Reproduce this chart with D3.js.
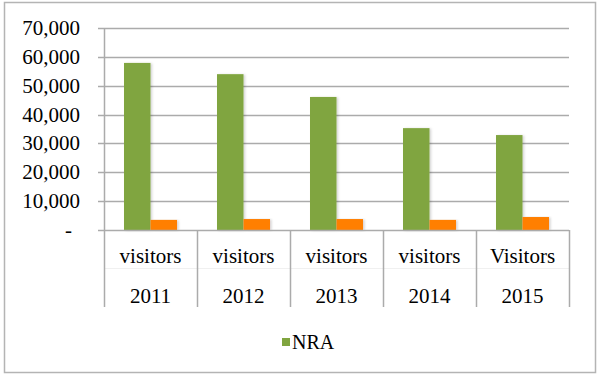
<!DOCTYPE html>
<html>
<head>
<meta charset="utf-8">
<script src="https://cdn.jsdelivr.net/npm/d3@7"></script>
<style>
  body { margin: 0; background: #fff; }
  text { font-family: "Liberation Serif", "Times New Roman", serif; fill: #000; }
</style>
</head>
<body>
<div id="chart"></div>
<script>
// data
var years = ["2011", "2012", "2013", "2014", "2015"];
var subLabels = ["visitors", "visitors", "visitors", "visitors", "Visitors"];
var nraVisitors = [57900, 54000, 46100, 35300, 32900];
var otherVisitors = [3500, 3800, 3800, 3500, 4500];
var yTicks = [0, 10000, 20000, 30000, 40000, 50000, 60000, 70000];

var green = "#80a53f";
var orange = "#ff7f00";
var gridColor = "#ababab";

var width = 598, height = 375;

var svg = d3.select("#chart")
    .append("svg")
    .attr("width", width)
    .attr("height", height);

// soft shadow under the bars
var defs = svg.append("defs");
var shadow = defs.append("filter").attr("id", "barShadow")
    .attr("x", "-20%").attr("y", "-5%").attr("width", "150%").attr("height", "115%");
shadow.append("feDropShadow")
    .attr("dx", 1.5).attr("dy", 0.5).attr("stdDeviation", 1.2)
    .attr("flood-color", "#000").attr("flood-opacity", 0.18);

// outer frame
svg.append("rect")
    .attr("x", 4.5).attr("y", 2.5)
    .attr("width", 591).attr("height", 370)
    .attr("fill", "#fff")
    .attr("stroke", "#b4b4b4")
    .attr("stroke-width", 1.5);

var x = d3.scaleBand().domain(years).range([104, 569]).padding(0);
var bw = x.bandwidth();
var xSub = d3.scaleBand().domain(["nra", "other"]).range([bw * 0.215, bw * 0.785]).padding(0);
var y = d3.scaleLinear().domain([0, 70000]).range([230, 28]);

// gridlines
svg.append("g")
    .selectAll("line")
    .data(yTicks.filter(function (d) { return d > 0; }))
    .join("line")
    .attr("x1", 98).attr("x2", 569)
    .attr("y1", function (d) { return Math.round(y(d)) + 0.5; })
    .attr("y2", function (d) { return Math.round(y(d)) + 0.5; })
    .attr("stroke", gridColor)
    .attr("stroke-width", 1.3);

// y axis labels
svg.append("g")
    .selectAll("text")
    .data(yTicks)
    .join("text")
    .attr("x", function (d) { return d === 0 ? 72 : 80; })
    .attr("y", function (d) { return y(d) + 7; })
    .attr("text-anchor", "end")
    .attr("font-size", 21)
    .text(function (d) { return d === 0 ? "-" : d3.format(",")(d); });

// bars
var groups = svg.append("g")
    .selectAll("g")
    .data(years)
    .join("g")
    .attr("transform", function (d) { return "translate(" + x(d) + ",0)"; });

groups.append("rect")
    .attr("x", xSub("nra"))
    .attr("width", xSub.bandwidth())
    .attr("y", function (d, i) { return y(nraVisitors[i]); })
    .attr("height", function (d, i) { return y(0) - y(nraVisitors[i]); })
    .attr("fill", green)
    .attr("filter", "url(#barShadow)");

groups.append("rect")
    .attr("x", xSub("other"))
    .attr("width", xSub.bandwidth())
    .attr("y", function (d, i) { return y(otherVisitors[i]); })
    .attr("height", function (d, i) { return y(0) - y(otherVisitors[i]); })
    .attr("fill", orange)
    .attr("filter", "url(#barShadow)");

// category axis: baseline, separators, faint row divider
svg.append("line")
    .attr("x1", 98).attr("x2", 569)
    .attr("y1", 230.5).attr("y2", 230.5)
    .attr("stroke", gridColor).attr("stroke-width", 1.5);

svg.append("line")
    .attr("x1", 104).attr("x2", 569)
    .attr("y1", 268.5).attr("y2", 268.5)
    .attr("stroke", "#f0f0f0").attr("stroke-width", 1);

svg.append("g")
    .selectAll("line")
    .data(years.map(function (d) { return x(d); }).concat([x.range()[1]]))
    .join("line")
    .attr("x1", function (d) { return Math.round(d) + 0.5; })
    .attr("x2", function (d) { return Math.round(d) + 0.5; })
    .attr("y1", function (d, i) { return i === 0 ? 28 : 230; })
    .attr("y2", 307)
    .attr("stroke", gridColor)
    .attr("stroke-width", 1.5);

svg.append("g")
    .selectAll("text")
    .data(years)
    .join("text")
    .attr("x", function (d) { return x(d) + bw / 2; })
    .attr("y", 263)
    .attr("text-anchor", "middle")
    .attr("font-size", 21)
    .text(function (d, i) { return subLabels[i]; });

svg.append("g")
    .selectAll("text")
    .data(years)
    .join("text")
    .attr("x", function (d) { return x(d) + bw / 2; })
    .attr("y", 302.5)
    .attr("text-anchor", "middle")
    .attr("font-size", 21)
    .text(function (d) { return d; });

// legend (only the NRA series is labelled)
var legend = svg.append("g").attr("transform", "translate(282,338)");
legend.append("rect")
    .attr("width", 8).attr("height", 8)
    .attr("fill", green);
legend.append("text")
    .attr("x", 10).attr("y", 11)
    .attr("font-size", 20)
    .text("NRA");
</script>
</body>
</html>
